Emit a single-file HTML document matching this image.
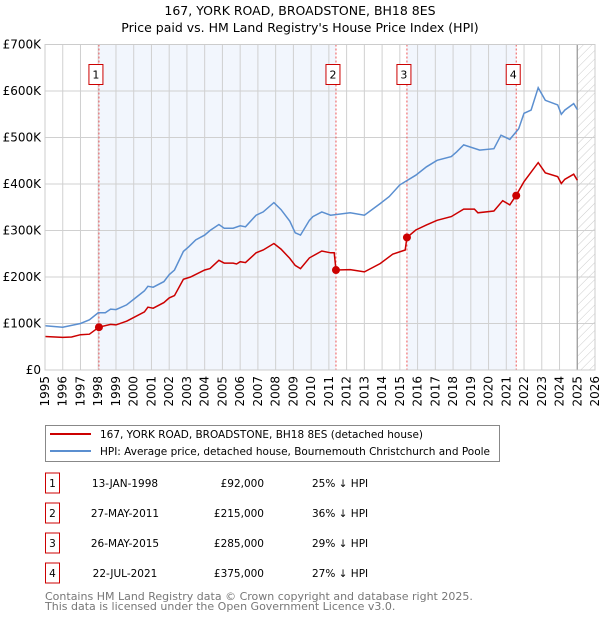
<!DOCTYPE html>
<html><head><meta charset="utf-8"><style>
body{margin:0;background:#fff;font-family:"DejaVu Sans","Liberation Sans",sans-serif;}
svg text{font-family:"DejaVu Sans","Liberation Sans",sans-serif;}
</style></head><body>
<svg id="chart" width="600" height="620" xmlns="http://www.w3.org/2000/svg">
<text x="300" y="15" text-anchor="middle" font-size="12.5">167, YORK ROAD, BROADSTONE, BH18 8ES</text>
<text x="300" y="32" text-anchor="middle" font-size="12.5">Price paid vs. HM Land Registry's House Price Index (HPI)</text>
<g id="plot"></g>
<g>
<rect x="45.5" y="425.5" width="454" height="36" fill="#fff" stroke="#888"/>
<line x1="50" y1="434" x2="91" y2="434" stroke="#cc0000" stroke-width="2"/>
<text x="100" y="438" font-size="10.5" textLength="323" lengthAdjust="spacingAndGlyphs">167, YORK ROAD, BROADSTONE, BH18 8ES (detached house)</text>
<line x1="50" y1="451" x2="91" y2="451" stroke="#5b8fd0" stroke-width="2"/>
<text x="100" y="455" font-size="10.5" textLength="390" lengthAdjust="spacingAndGlyphs">HPI: Average price, detached house, Bournemouth Christchurch and Poole</text>
</g>
<g id="table"></g>
<text x="45" y="600" font-size="11" fill="#777">Contains HM Land Registry data © Crown copyright and database right 2025.</text>
<text x="45" y="610" font-size="11" fill="#777">This data is licensed under the Open Government Licence v3.0.</text>
</svg>
<script>
const hpiYears=[1995,1996,1997,1997.5,1998,1998.4,1998.7,1999,1999.6,2000.1,2000.6,2000.8,2001.1,2001.7,2002,2002.3,2002.8,2003.1,2003.5,2004,2004.3,2004.8,2005.1,2005.6,2006,2006.3,2006.9,2007.3,2007.9,2008.3,2008.8,2009.1,2009.4,2009.9,2010.1,2010.6,2011.1,2012.2,2013.0,2013.9,2014.4,2015.0,2015.9,2016.5,2017.1,2017.9,2018.2,2018.6,2019.5,2020.3,2020.7,2021.2,2021.7,2022.0,2022.4,2022.8,2023.2,2023.9,2024.1,2024.3,2024.8,2025.0];
const hpiValues=[95,92,100,108,123,123,131,130,140,155,170,180,178,190,205,215,255,265,280,290,300,313,305,305,310,308,333,340,360,345,320,295,290,322,330,340,333,338,333,358,373,398,419,437,451,459,469,484,473,476,505,496,519,552,559,607,580,570,550,559,573,560];
const ppYears=[1995,1996,1996.5,1997,1997.5,1998.04,1998.7,1999,1999.6,2000.6,2000.8,2001.1,2001.7,2002,2002.3,2002.8,2003.2,2004,2004.3,2004.8,2005.1,2005.6,2005.8,2006,2006.3,2006.9,2007.3,2007.9,2008.3,2008.8,2009.1,2009.4,2009.9,2010.6,2011.1,2011.3,2011.4,2012.2,2013.0,2013.9,2014.6,2015.3,2015.4,2015.9,2016.5,2017.1,2017.9,2018.6,2019.2,2019.4,2020.3,2020.8,2021.2,2021.56,2022.0,2022.8,2023.2,2023.9,2024.1,2024.3,2024.8,2025.0];
const ppValues=[72,70,71,76,77,92,98,97,105,125,135,133,145,155,160,195,200,215,218,236,230,230,228,233,231,252,258,272,260,240,225,218,241,256,252,252,215,216,211,229,249,258,285,301,312,322,330,346,346,338,342,364,355,376,405,446,424,416,401,410,421,408];
const saleYears=[1998.04,2011.4,2015.4,2021.56];
const saleValues=[92,215,285,375];
const saleDates=["13-JAN-1998","27-MAY-2011","26-MAY-2015","22-JUL-2021"];
const salePrices=["£92,000","£215,000","£285,000","£375,000"];
const saleDiffs=["25% ↓ HPI","36% ↓ HPI","29% ↓ HPI","27% ↓ HPI"];
const yTicks=[0,100,200,300,400,500,600,700];
const yTickLabels=["£0","£100K","£200K","£300K","£400K","£500K","£600K","£700K"];
const xTicks=[1995,1996,1997,1998,1999,2000,2001,2002,2003,2004,2005,2006,2007,2008,2009,2010,2011,2012,2013,2014,2015,2016,2017,2018,2019,2020,2021,2022,2023,2024,2025,2026];

const NS="http://www.w3.org/2000/svg";
const L=45,R=595,T=44.5,B=370;
const xs=y=>L+(y-1995)/(2026-1995)*(R-L);
const ys=v=>B-v/700*(B-T);
const plot=document.getElementById('plot');
function mk(tag,attrs,parent){const e=document.createElementNS(NS,tag);for(const k in attrs)e.setAttribute(k,attrs[k]);(parent||plot).appendChild(e);return e;}
const dataEnd=2025.0;
const bands=[[saleYears[0],saleYears[1]],[saleYears[2],saleYears[3]]];
bands.forEach(b=>{const r=mk('rect',{x:xs(b[0]),y:T,width:xs(b[1])-xs(b[0]),height:B-T,fill:'#f2f6fd'});

});
const defs=mk('defs',{});
const pat=mk('pattern',{id:'hatch',width:6,height:6,patternUnits:'userSpaceOnUse',patternTransform:'rotate(45)'},defs);
mk('line',{x1:0,y1:0,x2:0,y2:6,stroke:'#ccc','stroke-width':1},pat);
const h=mk('rect',{x:xs(dataEnd),y:T,width:R-xs(dataEnd),height:B-T,fill:'url(#hatch)'});


xTicks.forEach((t,i)=>{const g=mk('line',{x1:xs(t),x2:xs(t),y1:T,y2:B,stroke:'#d0d0d0','stroke-width':1});


const tx=mk('text',{x:0,y:0,'font-size':12,'text-anchor':'end',transform:`translate(${xs(t)+4},${B+6}) rotate(-90)`});tx.textContent=t;

});
yTicks.forEach((t,i)=>{const g=mk('line',{x1:L,x2:R,y1:ys(t),y2:ys(t),stroke:'#d0d0d0','stroke-width':1});


const tx=mk('text',{x:L-4,y:ys(t)+4,'font-size':12,'text-anchor':'end'});tx.textContent=yTickLabels[i];

});
mk('line',{x1:xs(dataEnd),x2:xs(dataEnd),y1:T,y2:B,stroke:'#999','stroke-width':1.2});
saleYears.forEach((y,i)=>{const l=mk('line',{x1:xs(y),x2:xs(y),y1:T,y2:B,stroke:'#ee5555','stroke-width':1,'stroke-dasharray':'2,2'});


const bx=xs(y)-10;
const r=mk('rect',{x:bx,y:64.5,width:14,height:20,fill:'#fff',stroke:'#cc0000','stroke-width':1});


const t=mk('text',{x:bx+7,y:78.5,'font-size':11,'text-anchor':'middle'});t.textContent=i+1;

});
function pathOf(xsA,vsA){return xsA.map((y,i)=>(i?'L':'M')+xs(y).toFixed(1)+','+ys(vsA[i]).toFixed(1)).join(' ');}
const hp=mk('path',{d:pathOf(hpiYears,hpiValues),fill:'none',stroke:'#5b8fd0','stroke-width':1.5});


const pp=mk('path',{d:pathOf(ppYears,ppValues),fill:'none',stroke:'#cc0000','stroke-width':1.5});


saleYears.forEach((y,i)=>{const c=mk('circle',{cx:xs(y),cy:ys(saleValues[i]),r:4,fill:'#cc0000'});

});
mk('rect',{x:L,y:T,width:R-L,height:B-T,fill:'none',stroke:'#ccc'});
const tb=document.getElementById('table');
saleDates.forEach((d,i)=>{const cy=483+i*30;
const r=mk('rect',{x:45.5,y:cy-10,width:14,height:20,fill:'#fff',stroke:'#cc0000'},tb);


const n=mk('text',{x:52.5,y:cy+4,'font-size':10.5,'text-anchor':'middle'},tb);n.textContent=i+1;


const a=mk('text',{x:125,y:cy+4,'font-size':10.5,'text-anchor':'middle'},tb);a.textContent=d;


const p=mk('text',{x:264,y:cy+4,'font-size':10.5,'text-anchor':'end'},tb);p.textContent=salePrices[i];


const df=mk('text',{x:312,y:cy+4,'font-size':10.5},tb);df.textContent=saleDiffs[i];

});
</script>
</body></html>
